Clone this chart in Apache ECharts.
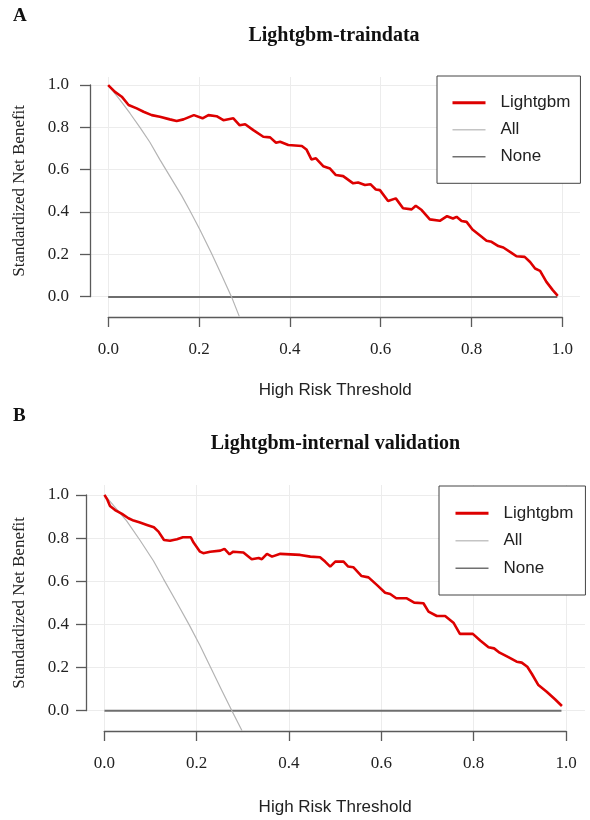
<!DOCTYPE html>
<html>
<head>
<meta charset="utf-8">
<script src="https://cdn.jsdelivr.net/npm/echarts@6/dist/echarts.min.js"></script>
<style>
  html, body { margin: 0; padding: 0; background: #fff; }
  #chart { width: 590px; height: 820px; }
</style>
</head>
<body>
<div id="chart"></div>
<script>
const axisTicks = [0, 0.2, 0.4, 0.6, 0.8, 1.0];

// panel A: training data
const trainThreshold = [0, 0.015, 0.03, 0.045, 0.063, 0.078, 0.096, 0.114, 0.136, 0.151, 0.166, 0.189, 0.208, 0.221, 0.239, 0.254, 0.276, 0.29, 0.302, 0.32, 0.342, 0.357, 0.37, 0.379, 0.397, 0.427, 0.437, 0.448, 0.458, 0.474, 0.489, 0.502, 0.518, 0.54, 0.551, 0.566, 0.578, 0.59, 0.599, 0.617, 0.634, 0.65, 0.669, 0.678, 0.691, 0.709, 0.731, 0.747, 0.76, 0.768, 0.779, 0.79, 0.803, 0.819, 0.834, 0.845, 0.86, 0.871, 0.889, 0.9, 0.918, 0.93, 0.941, 0.952, 0.966, 0.98, 0.991];
const trainLightgbm = [1.0, 0.968, 0.945, 0.906, 0.89, 0.874, 0.858, 0.85, 0.838, 0.83, 0.838, 0.858, 0.843, 0.858, 0.853, 0.834, 0.843, 0.81, 0.815, 0.787, 0.756, 0.753, 0.728, 0.732, 0.717, 0.712, 0.696, 0.649, 0.654, 0.617, 0.606, 0.575, 0.57, 0.536, 0.54, 0.528, 0.532, 0.507, 0.504, 0.453, 0.465, 0.418, 0.413, 0.43, 0.41, 0.366, 0.359, 0.381, 0.37, 0.378, 0.358, 0.354, 0.318, 0.291, 0.265, 0.26, 0.24, 0.233, 0.208, 0.192, 0.189, 0.165, 0.134, 0.123, 0.071, 0.032, 0.005];
const trainAllThreshold = [0, 0.026, 0.048, 0.07, 0.092, 0.114, 0.136, 0.162, 0.18, 0.202, 0.228, 0.25, 0.272, 0.289];
const trainAll = [1.0, 0.93, 0.867, 0.8, 0.73, 0.648, 0.57, 0.478, 0.408, 0.318, 0.205, 0.103, 0, -0.092];

// panel B: internal validation
const validThreshold = [0, 0.0065, 0.012, 0.023, 0.038, 0.052, 0.063, 0.077, 0.092, 0.107, 0.117, 0.129, 0.142, 0.157, 0.17, 0.187, 0.193, 0.207, 0.214, 0.229, 0.251, 0.26, 0.271, 0.279, 0.301, 0.319, 0.334, 0.341, 0.352, 0.363, 0.381, 0.424, 0.446, 0.467, 0.478, 0.489, 0.5, 0.518, 0.528, 0.539, 0.557, 0.572, 0.59, 0.608, 0.619, 0.632, 0.655, 0.671, 0.691, 0.702, 0.72, 0.738, 0.756, 0.77, 0.798, 0.814, 0.832, 0.844, 0.856, 0.875, 0.893, 0.904, 0.916, 0.926, 0.94, 0.958, 0.976, 0.991];
const validLightgbm = [1.0, 0.977, 0.949, 0.93, 0.912, 0.892, 0.881, 0.872, 0.861, 0.85, 0.83, 0.791, 0.788, 0.795, 0.804, 0.804, 0.779, 0.737, 0.73, 0.737, 0.742, 0.75, 0.725, 0.737, 0.733, 0.702, 0.708, 0.702, 0.727, 0.714, 0.727, 0.722, 0.714, 0.711, 0.691, 0.668, 0.691, 0.691, 0.668, 0.665, 0.624, 0.618, 0.583, 0.547, 0.541, 0.521, 0.521, 0.501, 0.498, 0.459, 0.439, 0.439, 0.408, 0.356, 0.356, 0.325, 0.294, 0.289, 0.269, 0.248, 0.227, 0.223, 0.204, 0.17, 0.119, 0.088, 0.053, 0.022];
const validAllThreshold = [0, 0.048, 0.077, 0.106, 0.128, 0.157, 0.183, 0.207, 0.229, 0.254, 0.276, 0.298];
const validAll = [1.0, 0.88, 0.79, 0.695, 0.61, 0.5, 0.4, 0.302, 0.205, 0.095, 0, -0.093];

const noneThreshold = [0, 0.99];
const noneBenefit = [0, 0];

const serif = 'Liberation Serif';
const sans = 'Liberation Sans';
const axisColor = '#5a5a5a';
const gridColor = '#ececec';

const zip = (xs, ys) => xs.map((x, i) => [x, ys[i]]);

const chart = echarts.init(document.getElementById('chart'));

const grid = [], xAxis = [], yAxis = [], series = [], legend = [];

// p: pixel layout of one panel
function addPanel(p, lightgbm, all) {
  const g = grid.length;
  // plot area (clip region)
  grid.push({ left: p.plotLeft, top: p.plotTop, width: p.plotRight - p.plotLeft, height: p.axisY - p.plotTop });
  xAxis.push({ gridIndex: g, type: 'value', min: -0.04, max: p.xMax, show: false });
  yAxis.push({ gridIndex: g, type: 'value', min: p.yMin, max: p.yMax, show: false });
  // y axis (0..1) with horizontal grid lines
  grid.push({ left: p.plotLeft, top: p.y1, width: p.plotRight - p.plotLeft, height: p.y0 - p.y1 });
  xAxis.push({ gridIndex: g + 1, type: 'value', min: 0, max: 1, show: false });
  yAxis.push({
    gridIndex: g + 1, type: 'value', min: 0, max: 1, interval: 0.2,
    name: 'Standardized Net Benefit', nameLocation: 'middle', nameGap: p.yNameGap,
    nameTextStyle: { fontFamily: serif, fontSize: 17, color: '#222' },
    axisLine: { show: true, lineStyle: { color: axisColor, width: 1.3 } },
    axisTick: { show: true, length: 10, lineStyle: { color: axisColor, width: 1.3 } },
    axisLabel: { margin: p.yLabelMargin, fontFamily: serif, fontSize: 17, color: '#222', formatter: v => v.toFixed(1) },
    splitLine: { show: true, lineStyle: { color: gridColor, width: 1 } }
  });
  // x axis (0..1) with vertical grid lines
  grid.push({ left: p.x0, top: p.plotTop, width: p.x1 - p.x0, height: p.axisY - p.plotTop });
  xAxis.push({
    gridIndex: g + 2, type: 'value', min: 0, max: 1, interval: 0.2, position: 'bottom',
    name: 'High Risk Threshold', nameLocation: 'middle', nameGap: p.xNameGap,
    nameTextStyle: { fontFamily: sans, fontSize: 17, color: '#222' },
    axisLine: { show: true, lineStyle: { color: axisColor, width: 1.3 } },
    axisTick: { show: true, length: 10, lineStyle: { color: axisColor, width: 1.3 } },
    axisLabel: { margin: 24, fontFamily: serif, fontSize: 17, color: '#222', formatter: v => v.toFixed(1) },
    splitLine: { show: true, lineStyle: { color: gridColor, width: 1 } }
  });
  yAxis.push({ gridIndex: g + 2, type: 'value', min: 0, max: 1, show: false });

  series.push(
    { name: 'None', type: 'line', xAxisIndex: g, yAxisIndex: g, data: zip(noneThreshold, noneBenefit),
      symbol: 'none', lineStyle: { color: '#6e6e6e', width: 2 }, itemStyle: { color: '#6e6e6e' }, z: 3 },
    { name: 'All', type: 'line', xAxisIndex: g, yAxisIndex: g, data: all,
      symbol: 'none', lineStyle: { color: '#b4b4b4', width: 1.2 }, itemStyle: { color: '#b4b4b4' }, z: 3 },
    { name: 'Lightgbm', type: 'line', xAxisIndex: g, yAxisIndex: g, data: lightgbm,
      symbol: 'none', lineStyle: { color: '#dd0000', width: 2.6 }, itemStyle: { color: '#dd0000' }, z: 4 }
  );

  legend.push({
    orient: 'vertical', left: p.legLeft, top: p.legTop,
    padding: p.legPad, itemGap: p.legGap, itemWidth: 33, itemHeight: 20,
    borderColor: '#444', borderWidth: 1, backgroundColor: '#fff',
    selectedMode: false,
    itemStyle: { opacity: 0 },
    textStyle: { fontFamily: sans, fontSize: 17, color: '#222', lineHeight: 20, padding: [0, 0, 0, 10] },
    data: [
      { name: 'Lightgbm', lineStyle: { width: 3, color: '#dd0000' } },
      { name: 'All', lineStyle: { width: 1.5, color: '#c4c4c4' } },
      { name: 'None', lineStyle: { width: 1.5, color: '#707070' } }
    ]
  });
}

addPanel({
  plotLeft: 90, plotRight: 580, plotTop: 77, axisY: 317,
  x0: 108.3, x1: 562.3, y1: 85, y0: 296.7,
  xMax: 1.04, yMin: -0.095, yMax: 1.038,
  yNameGap: 62, yLabelMargin: 21, xNameGap: 65,
  legLeft: 437, legTop: 76, legPad: [16.7, 10, 16.6, 14], legGap: 7
}, zip(trainThreshold, trainLightgbm), zip(trainAllThreshold, trainAll));

addPanel({
  plotLeft: 86, plotRight: 585, plotTop: 485, axisY: 731,
  x0: 104.3, x1: 566, y1: 495, y0: 710.7,
  xMax: 1.041, yMin: -0.094, yMax: 1.046,
  yNameGap: 58, yLabelMargin: 17, xNameGap: 68,
  legLeft: 439, legTop: 486, legPad: [17.3, 12, 16.7, 15], legGap: 7.5
}, zip(validThreshold, validLightgbm), zip(validAllThreshold, validAll));

const textEl = (x, y, text, size, align) => ({
  type: 'text', x: x, y: y,
  style: { text: text, fontFamily: serif, fontWeight: 'bold', fontSize: size, fill: '#111', textAlign: align, textVerticalAlign: 'middle' }
});

chart.setOption({
  animation: false,
  grid: grid,
  xAxis: xAxis,
  yAxis: yAxis,
  legend: legend,
  series: series,
  graphic: [
    textEl(13, 16, 'A', 19, 'left'),
    textEl(334, 36, 'Lightgbm-traindata', 20, 'center'),
    textEl(13, 416, 'B', 19, 'left'),
    textEl(335.5, 444, 'Lightgbm-internal validation', 20, 'center')
  ]
});
</script>
</body>
</html>
